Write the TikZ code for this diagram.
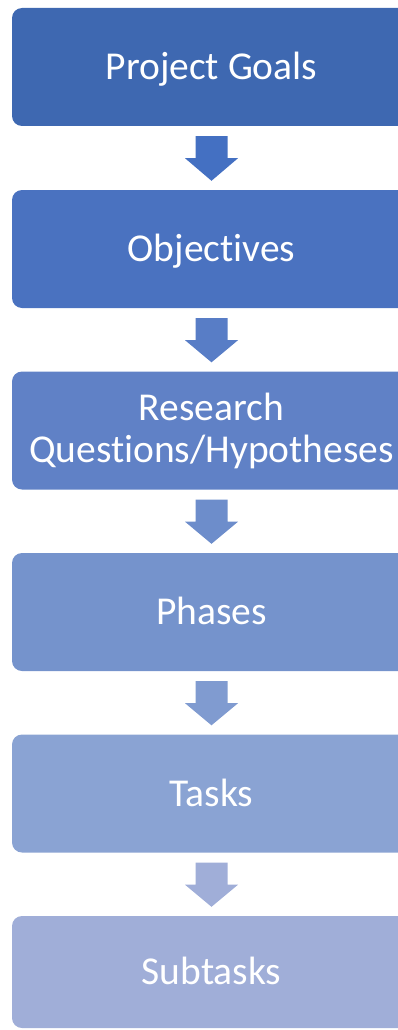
\documentclass[tikz,border=0pt]{standalone}
\usepackage{fontspec}
\setmainfont{Carlito}[Ligatures={NoCommon,NoRare,NoContextual}]
\usetikzlibrary{calc}
\definecolor{bxa}{RGB}{62,104,177}
\definecolor{bxb}{RGB}{74,114,192}
\definecolor{bxc}{RGB}{96,129,198}
\definecolor{bxd}{RGB}{117,147,204}
\definecolor{bxe}{RGB}{138,163,211}
\definecolor{bxf}{RGB}{160,174,216}
\definecolor{ara}{RGB}{68,112,194}
\definecolor{arb}{RGB}{88,125,198}
\definecolor{arc}{RGB}{109,141,203}
\definecolor{ard}{RGB}{128,155,208}
\definecolor{are}{RGB}{160,174,216}
\begin{document}
\begin{tikzpicture}[x=1pt,y=-1pt,
  stage/.style={rounded corners=10pt, minimum width=399pt, minimum height=118pt, inner sep=0pt, draw=none},
  lbl/.style={text=white, font=\fontsize{39.5}{42}\selectfont, inner sep=0pt, anchor=base},
]
\useasboundingbox (0,0) rectangle (398,1030);
\clip (0,0) rectangle (398,1030);
\node[stage, fill=bxa] (b1) at (211.5,67) {};
\node[stage, fill=bxb] (b2) at (211.5,249) {};
\node[stage, fill=bxc] (b3) at (211.5,430.5) {};
\node[stage, fill=bxd] (b4) at (211.5,612) {};
\node[stage, fill=bxe] (b5) at (211.5,793.5) {};
\node[stage, fill=bxf, minimum height=112pt] (b6) at (211.5,972) {};
\node[lbl] (t1) at ($(b1.center)+(0,12.7)$) {Project Goals};
\node[lbl] (t2) at ($(b2.center)+(0,12.7)$) {Objectives};
\node[lbl] (t3a) at ($(b3.center)+(0,-10.5)$) {Research};
\node[lbl] (t3b) at ($(b3.center)+(0,31.5)$) {Questions/Hypotheses};
\node[lbl] (t4) at ($(b4.center)+(0,12.7)$) {Phases};
\node[lbl] (t5) at ($(b5.center)+(0,12.7)$) {Tasks};
\node[lbl] (t6) at ($(b6.center)+(0,12.7)$) {Subtasks};
\foreach \u/\v/\c in {b1/b2/ara,b2/b3/arb,b3/b4/arc,b4/b5/ard,b5/b6/are}{
  \fill[\c] ($(\u.south)+(-16,10)$) -- ++(32,0) -- ++(0,22) -- ++(10.5,0)
    -- ($(\v.north)+(0,-9)$) -- ($(\u.south)+(-26.5,32)$) -- ++(10.5,0) -- cycle;
}
\end{tikzpicture}
\end{document}
